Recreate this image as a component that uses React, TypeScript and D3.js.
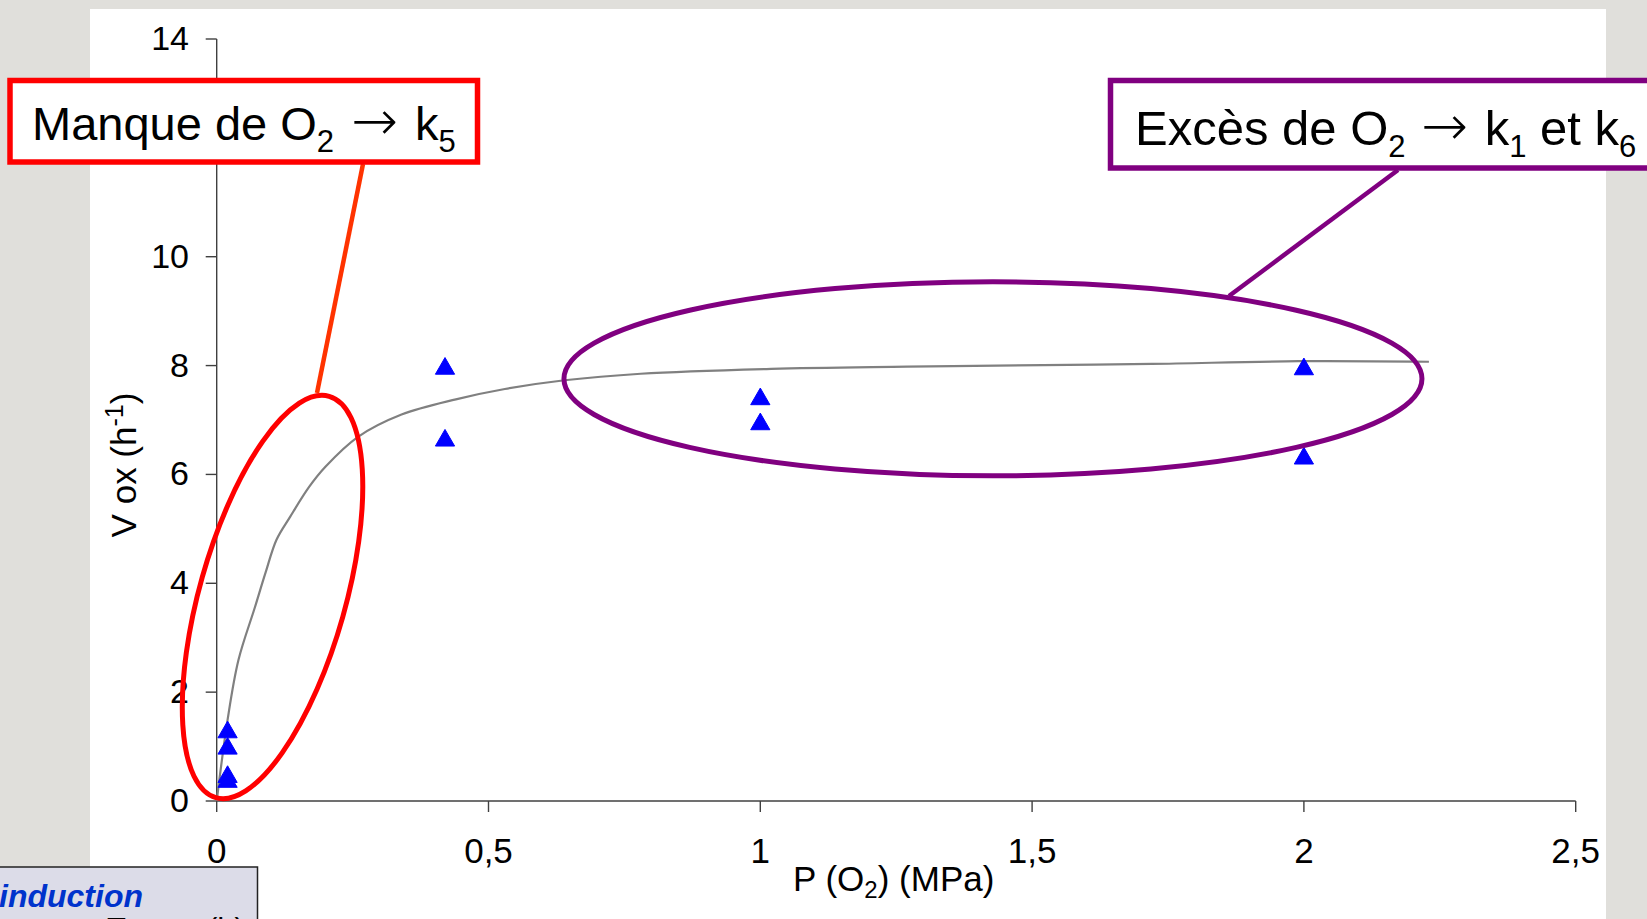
import React from "react";
import * as d3 from "d3";

// ---- data ----
const pointX = [0.02, 0.02, 0.02, 0.02, 0.42, 0.42, 1.0, 1.0, 2.0, 2.0];
const pointY = [1.3, 1.0, 0.48, 0.39, 7.98, 6.66, 7.42, 6.96, 7.97, 6.33];

const curveX = [0, 0.02, 0.04, 0.07, 0.09, 0.11, 0.135, 0.17, 0.2, 0.26, 0.34, 0.44, 0.53, 0.64, 0.78, 1.02, 1.27, 1.52, 1.72, 1.99, 2.23];
const curveY = [0, 1.49, 2.59, 3.55, 4.2, 4.8, 5.22, 5.77, 6.14, 6.69, 7.1, 7.38, 7.57, 7.73, 7.85, 7.94, 7.98, 8.01, 8.03, 8.08, 8.07];

const xTicks = [0, 0.5, 1, 1.5, 2, 2.5];
const yTicks = [0, 2, 4, 6, 8, 10, 12, 14];

const W = 1647;
const H = 919;
const FONT = "'Liberation Sans', Arial, sans-serif";
const ARROW_FONT = "'DejaVu Sans', sans-serif";

export default function App() {
  const x = d3.scaleLinear().domain([0, 2.5]).range([216.7, 1575.7]);
  const y = d3.scaleLinear().domain([0, 14]).range([801, 39]);
  const fmt = (d: number) => String(d).replace(".", ",");

  const curvePts: [number, number][] = curveX.map((v, i) => [v, curveY[i]]);
  const line = d3
    .line<[number, number]>()
    .x((d) => x(d[0]))
    .y((d) => y(d[1]))
    .curve(d3.curveCatmullRom.alpha(0.5));

  const tri = d3.symbol().type(d3.symbolTriangle).size(160)();

  // annotations anchored in data space
  const redC = [x(0.1027), y(3.748)];
  const purC = [x(1.428), y(7.757)];

  return (
    <svg
      width={W}
      height={H}
      style={{ position: "absolute", left: 0, top: 0, display: "block" }}
      fontFamily={FONT}
    >
      <rect x={0} y={0} width={W} height={H} fill="#e0dfdb" />
      <rect x={90} y={9} width={1516} height={H} fill="#ffffff" />

      {/* axes */}
      <g stroke="#404040" strokeWidth={1.4}>
        <line x1={x(0)} x2={x(0)} y1={y(14)} y2={y(0)} />
        <line x1={x(0)} x2={x(2.5)} y1={y(0)} y2={y(0)} />
        {yTicks.map((t) => (
          <line key={"yt" + t} x1={x(0) - 11} x2={x(0)} y1={y(t)} y2={y(t)} />
        ))}
        {xTicks.map((t) => (
          <line key={"xt" + t} x1={x(t)} x2={x(t)} y1={y(0)} y2={y(0) + 11} />
        ))}
      </g>
      <g fill="#000">
        {yTicks.map((t) => (
          <text key={"yl" + t} x={189} y={y(t) + 11} textAnchor="end" fontSize={34}>
            {fmt(t)}
          </text>
        ))}
        {xTicks.map((t) => (
          <text key={"xl" + t} x={x(t)} y={863} textAnchor="middle" fontSize={35}>
            {fmt(t)}
          </text>
        ))}
      </g>

      {/* axis titles */}
      <text x={793} y={891} fontSize={35} fill="#000">
        P (O<tspan fontSize={24} dy={7}>2</tspan>
        <tspan dy={-7}>) (MPa)</tspan>
      </text>
      <text
        transform={`translate(136,465) rotate(-90)`}
        fontSize={35}
        textAnchor="middle"
        fill="#000"
      >
        V ox (h<tspan fontSize={25} dy={-13}>-1</tspan>
        <tspan dy={13}>)</tspan>
      </text>

      {/* fitted curve */}
      <path d={line(curvePts) || ""} fill="none" stroke="#808080" strokeWidth={2.2} />

      {/* data points */}
      {pointX.map((px, i) => (
        <path
          key={"p" + i}
          d={tri || ""}
          transform={`translate(${x(px)},${y(pointY[i]) + 2})`}
          fill="#0000ff"
          stroke="#0000ff"
          strokeWidth={1}
          strokeLinejoin="round"
        />
      ))}

      {/* ellipses */}
      <ellipse
        cx={redC[0]}
        cy={redC[1]}
        rx={73}
        ry={208.5}
        transform={`rotate(15.76 ${redC[0]} ${redC[1]})`}
        fill="none"
        stroke="#ff0000"
        strokeWidth={5}
      />
      <ellipse cx={purC[0]} cy={purC[1]} rx={429} ry={97} fill="none" stroke="#800080" strokeWidth={5} />

      {/* leader lines */}
      <line x1={363} y1={164} x2={317} y2={393} stroke="#ff3300" strokeWidth={4.5} />
      <line x1={1398} y1={170} x2={1229} y2={296} stroke="#800080" strokeWidth={4.5} />

      {/* callout boxes */}
      <rect x={10} y={80.5} width={467.5} height={81.5} fill="#ffffff" stroke="#ff0000" strokeWidth={5.5} />
      <text x={32} y={140} fontSize={47} fill="#000">
        Manque de O<tspan fontSize={31} dy={12}>2</tspan>
        <tspan dy={-12}> </tspan>
        <tspan fontFamily={ARROW_FONT} fontSize={56} fontWeight={300} dx={4}>→</tspan>
        <tspan dx={4}> k</tspan>
        <tspan fontSize={31} dy={12}>5</tspan>
      </text>

      <rect x={1110.5} y={80.5} width={600} height={87.5} fill="#ffffff" stroke="#800080" strokeWidth={5.5} />
      <text x={1135} y={145} fontSize={49} fill="#000">
        Excès de O<tspan fontSize={31} dy={12}>2</tspan>
        <tspan dy={-12}> </tspan>
        <tspan fontFamily={ARROW_FONT} fontSize={56} fontWeight={300} dx={2}>→</tspan>
        <tspan dx={3}> k</tspan>
        <tspan fontSize={31} dy={12}>1</tspan>
        <tspan dy={-12}> et k</tspan>
        <tspan fontSize={31} dy={12}>6</tspan>
      </text>

      {/* partial slide box bottom-left */}
      <rect x={-5} y={867} width={262.5} height={80} fill="#dcdce8" stroke="#222" strokeWidth={1.5} />
      <text x={-1} y={907} fontSize={32} fontWeight="bold" fontStyle="italic" fill="#0033cc">
        induction
      </text>
      <text x={107} y={940} fontSize={31} fill="#000">
        Temps (h)
      </text>
    </svg>
  );
}
